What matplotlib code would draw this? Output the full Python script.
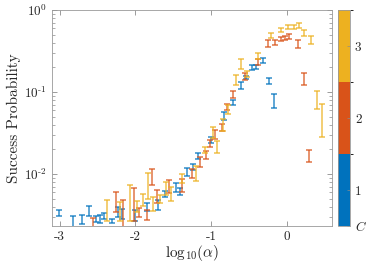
import numpy as np
import matplotlib
matplotlib.use('Agg')
from matplotlib import pyplot as plt
from matplotlib.colors import ListedColormap, BoundaryNorm
from matplotlib.cm import ScalarMappable

plt.rcParams['font.family'] = 'cmr10'
plt.rcParams['mathtext.fontset'] = 'cm'
plt.rcParams['axes.unicode_minus'] = False
plt.rcParams['axes.formatter.use_mathtext'] = True

# C = 1 (blue)
x1 = [-3.01, -2.825, -2.707, -2.605, -2.517, -2.464, -2.408, -2.307, -2.224, -2.175,
      -2.0, -1.842, -1.701, -1.609, -1.464, -1.408, -1.312, -1.233, -1.167, -1.004,
      -0.829, -0.711, -0.609, -0.543, -0.464, -0.404, -0.312, -0.237, -0.164]
lo1 = [0.00308, 0.0022, 0.00245, 0.00308, 0.00260, 0.00253, 0.00282, 0.00253, 0.00299, 0.00282,
       0.00267, 0.00354, 0.00364, 0.00524, 0.00603, 0.00554, 0.00946, 0.0112, 0.0152, 0.0239,
       0.0456, 0.0694, 0.109, 0.144, 0.185, 0.191, 0.226, 0.125, 0.0638]
hi1 = [0.00364, 0.00308, 0.00316, 0.00407, 0.00308, 0.00316, 0.00334, 0.00282, 0.00396, 0.00374,
       0.00364, 0.00443, 0.00482, 0.00621, 0.00776, 0.00675, 0.0118, 0.0132, 0.0180, 0.0282,
       0.0570, 0.0798, 0.132, 0.157, 0.213, 0.213, 0.260, 0.148, 0.0946]

# C = 2 (orange)
x2 = [-2.553, -2.254, -2.158, -2.013, -1.947, -1.851, -1.78, -1.71, -1.553, -1.386,
      -1.254, -1.149, -1.07, -1.013, -0.951, -0.859, -0.786, -0.711, -0.557, -0.378,
      -0.25, -0.158, -0.075, -0.017, 0.036, 0.145, 0.224, 0.289]
lo2 = [0.0022, 0.00344, 0.0022, 0.00267, 0.00299, 0.00275, 0.00734, 0.00443, 0.00586, 0.00603,
       0.00894, 0.0122, 0.0152, 0.0213, 0.0267, 0.0334, 0.0603, 0.0845, 0.140, 0.213,
       0.354, 0.374, 0.419, 0.431, 0.443, 0.344, 0.122, 0.0140]
hi2 = [0.00291, 0.00603, 0.00482, 0.00675, 0.00385, 0.00364, 0.0115, 0.00638, 0.00845, 0.00869,
       0.0115, 0.0161, 0.0191, 0.0260, 0.0344, 0.0407, 0.0714, 0.103, 0.171, 0.253,
       0.431, 0.431, 0.469, 0.482, 0.510, 0.431, 0.171, 0.0196]

# C = 3 (yellow)
x3 = [-2.378, -2.197, -2.07, -1.983, -1.895, -1.829, -1.772, -1.675, -1.596, -1.53,
      -1.378, -1.201, -1.079, -0.978, -0.917, -0.842, -0.772, -0.675, -0.601, -0.53,
      -0.378, -0.201, -0.075, 0.017, 0.092, 0.167, 0.228, 0.32, 0.399, 0.464]
lo3 = [0.00267, 0.00267, 0.00267, 0.00344, 0.00407, 0.00496, 0.00354, 0.00443, 0.00554, 0.00469,
       0.00776, 0.00822, 0.0180, 0.0275, 0.0180, 0.0334, 0.0539, 0.122, 0.191, 0.152,
       0.253, 0.456, 0.539, 0.586, 0.586, 0.603, 0.482, 0.385, 0.0621, 0.0282]
hi3 = [0.00482, 0.00456, 0.00734, 0.00469, 0.00570, 0.0103, 0.00524, 0.00554, 0.00798, 0.00694,
       0.0100, 0.0125, 0.0213, 0.0374, 0.0253, 0.0469, 0.0694, 0.161, 0.253, 0.180,
       0.299, 0.524, 0.603, 0.656, 0.656, 0.694, 0.570, 0.482, 0.103, 0.0714]

series = [(x1, lo1, hi1), (x2, lo2, hi2), (x3, lo3, hi3)]
colors = ['#0072BD', '#D95319', '#EDB120']

xticks = [-3, -2, -1, 0]
xticklabels = ['-3', '-2', '-1', '0']
yticks = [1e-2, 1e-1, 1e0]
yticklabels = [r'$10^{\text{-}2}$', r'$10^{\text{-}1}$', r'$10^{0}$']
cticks = [0.5, 1, 2, 3]
cticklabels = [r'$C$', '1', '2', '3']

fig = plt.figure(figsize=(3.74, 2.70), dpi=100)
ax = fig.add_axes([0.139, 0.163, 0.749, 0.800])
cax = fig.add_axes([0.905, 0.163, 0.031, 0.800])

for (x, lo, hi), c in zip(series, colors):
    lo = np.array(lo)
    hi = np.array(hi)
    mid = (lo + hi) / 2
    err = (hi - lo) / 2
    ax.errorbar(x, mid, yerr=err, fmt='none', ecolor=c, elinewidth=1.1,
                capsize=1.9, capthick=1.1, alpha=0.8)

ax.set_yscale('log')
ax.set_xlim(-3.1, 0.6)
ax.set_ylim(0.00232, 1.0)
ax.set_xticks(xticks)
ax.set_xticklabels(xticklabels)
ax.set_yticks(yticks)
ax.set_yticklabels(yticklabels)
ax.tick_params(which='both', direction='in', top=True, right=True,
               labelsize=9.5, colors='0.55', labelcolor='0.15')
ax.tick_params(which='major', length=3.5, width=0.6)
ax.tick_params(which='minor', length=2, width=0.5)
ax.xaxis.set_minor_locator(plt.NullLocator())
for s in ax.spines.values():
    s.set_color('0.6')
    s.set_linewidth(0.6)
ax.set_xlabel(r'$\mathrm{log}_{10}(\alpha)$', fontsize=11, color='0.15', labelpad=0)
ax.set_ylabel('Success Probability', fontsize=11, color='0.15', labelpad=2)

cmap = ListedColormap(colors)
norm = BoundaryNorm([0.5, 1.5, 2.5, 3.5], cmap.N)
cb = fig.colorbar(ScalarMappable(norm=norm, cmap=cmap), cax=cax)
cb.set_ticks(cticks)
cb.set_ticklabels(cticklabels)
cb.outline.set_edgecolor('0.6')
cb.outline.set_linewidth(0.6)
cax.tick_params(direction='in', length=2.5, width=0.5, labelsize=9.5,
                colors='0.55', labelcolor='0.15')

fig.savefig('out.png', dpi=100)
